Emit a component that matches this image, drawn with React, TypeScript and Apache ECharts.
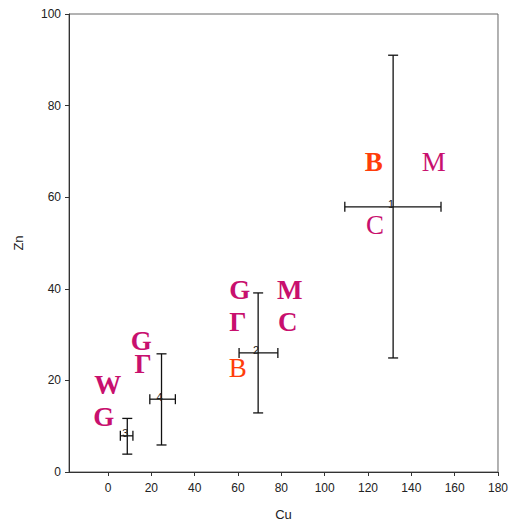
import React, { useEffect, useRef } from "react";
import * as echarts from "echarts";

// Group centroids (Cu, Zn) with error ranges
const groupIds = ["1", "2", "3", "4"];
const cuMean = [131.6, 69.3, 8.9, 24.7];
const cuLow = [109.3, 60.5, 5.7, 19.3];
const cuHigh = [153.7, 78.4, 11.5, 31.1];
const znMean = [57.9, 26.0, 7.9, 15.9];
const znLow = [24.9, 12.9, 3.9, 5.9];
const znHigh = [91.0, 39.1, 11.7, 25.8];

// Letter annotations
const letters = ["B", "M", "C", "G", "M", "Γ", "C", "B", "G", "Γ", "W", "G"];
const letterX = [122.7, 150.4, 123.2, 60.8, 83.9, 59.9, 83.0, 59.9, 15.4, 16.2, -0.1, -2.0];
const letterY = [67.7, 67.7, 53.9, 39.7, 39.7, 32.8, 32.8, 22.7, 28.6, 23.6, 19.0, 12.0];
const letterOrange = [true, false, false, false, false, false, false, true, false, false, false, false];
const letterBold = [true, false, false, true, true, true, true, false, true, true, true, true];

const xTicks = [0, 20, 40, 60, 80, 100, 120, 140, 160, 180];

const MAGENTA = "#C8106E";
const ORANGE = "#FF3D0A";

export default function App() {
  const ref = useRef<HTMLDivElement>(null);
  useEffect(() => {
    if (!ref.current) return;
    const chart = echarts.init(ref.current, null, { renderer: "svg" });
    const errData = groupIds.map((id, i) => [
      cuMean[i], znMean[i], cuLow[i], cuHigh[i], znLow[i], znHigh[i], i,
    ]);
    const cap = 5;
    chart.setOption({
      animation: false,
      grid: { left: 69, top: 14, right: 12, bottom: 54, show: true, borderColor: "#666", borderWidth: 1 },
      xAxis: {
        type: "value",
        min: -18,
        max: 180,
        interval: 20,
        name: "Cu",
        nameLocation: "middle",
        nameGap: 36,
        nameTextStyle: { fontFamily: "Liberation Sans", fontSize: 13, color: "#222" },
        axisLine: { show: true, onZero: false, lineStyle: { color: "#333" } },
        axisTick: { show: true, length: 4, lineStyle: { color: "#333" }, customValues: xTicks },
        axisLabel: {
          fontFamily: "Liberation Sans", fontSize: 12, color: "#222", margin: 10,
          customValues: xTicks,
        },
        splitLine: { show: false },
      },
      yAxis: {
        type: "value",
        min: 0,
        max: 100,
        interval: 20,
        name: "Zn",
        nameLocation: "middle",
        nameGap: 44,
        nameTextStyle: { fontFamily: "Liberation Sans", fontSize: 13, color: "#222" },
        axisLine: { show: true, onZero: false, lineStyle: { color: "#333" } },
        axisTick: { show: true, length: 4, lineStyle: { color: "#333" } },
        axisLabel: { fontFamily: "Liberation Sans", fontSize: 12, color: "#222", margin: 8 },
        splitLine: { show: false },
      },
      series: [
        {
          type: "custom",
          data: errData,
          renderItem: (params: any, api: any) => {
            const cx = api.value(0), cy = api.value(1);
            const xl = api.value(2), xh = api.value(3);
            const yl = api.value(4), yh = api.value(5);
            const idx = api.value(6);
            const pC = api.coord([cx, cy]);
            const pL = api.coord([xl, cy]);
            const pR = api.coord([xh, cy]);
            const pT = api.coord([cx, yh]);
            const pB = api.coord([cx, yl]);
            const st = { stroke: "#111", lineWidth: 1.3 };
            return {
              type: "group",
              children: [
                { type: "line", shape: { x1: pL[0], y1: pL[1], x2: pR[0], y2: pR[1] }, style: st },
                { type: "line", shape: { x1: pT[0], y1: pT[1], x2: pB[0], y2: pB[1] }, style: st },
                { type: "line", shape: { x1: pL[0], y1: pL[1] - cap, x2: pL[0], y2: pL[1] + cap }, style: st },
                { type: "line", shape: { x1: pR[0], y1: pR[1] - cap, x2: pR[0], y2: pR[1] + cap }, style: st },
                { type: "line", shape: { x1: pT[0] - cap, y1: pT[1], x2: pT[0] + cap, y2: pT[1] }, style: st },
                { type: "line", shape: { x1: pB[0] - cap, y1: pB[1], x2: pB[0] + cap, y2: pB[1] }, style: st },
                {
                  type: "text",
                  x: pC[0] - 2,
                  y: pC[1] + 3,
                  style: {
                    text: groupIds[idx],
                    fontFamily: "Liberation Sans",
                    fontSize: 11,
                    fill: "#222",
                    align: "center",
                    verticalAlign: "bottom",
                  },
                },
              ],
            };
          },
          z: 3,
        },
        {
          type: "scatter",
          symbolSize: 0,
          silent: true,
          itemStyle: { opacity: 1 },
          data: letters.map((l, i) => ({
            value: [letterX[i], letterY[i]],
            name: l,
            label: {
              show: true,
              position: "inside",
              formatter: l,
              fontFamily: "Liberation Serif",
              fontSize: 27,
              lineHeight: 20,
              fontWeight: letterBold[i] ? "bold" : "normal",
              color: letterOrange[i] ? ORANGE : MAGENTA,
              opacity: 1,
            },
          })),
          z: 4,
        },
      ],
    });
    return () => chart.dispose();
  }, []);
  return (
    <div
      ref={ref}
      style={{ width: 511, height: 526, position: "absolute", left: 0, top: 0 }}
    />
  );
}
